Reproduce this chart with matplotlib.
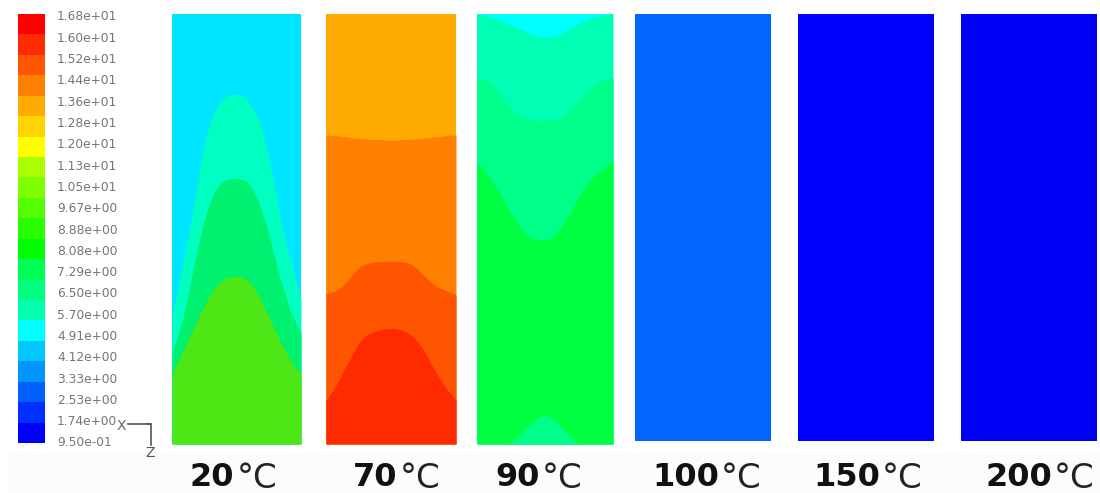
from matplotlib import pyplot as plt
import numpy as np

W, H = 1100, 493

# colour scale
scale_labels = ['1.68e+01', '1.60e+01', '1.52e+01', '1.44e+01', '1.36e+01', '1.28e+01', '1.20e+01', '1.13e+01',
                '1.05e+01', '9.67e+00', '8.88e+00', '8.08e+00', '7.29e+00', '6.50e+00', '5.70e+00', '4.91e+00',
                '4.12e+00', '3.33e+00', '2.53e+00', '1.74e+00', '9.50e-01']
scale_colors = ['#ff0000', '#ff2a00', '#ff5500', '#ff8000', '#ffaa00', '#ffd400', '#ffff00', '#aaff00', '#80ff00',
                '#55ff00', '#2aff00', '#00ff00', '#00ff55', '#00ff80', '#00ffb0', '#00ffff', '#00c8ff', '#0095ff',
                '#0060ff', '#0030ff', '#0000ff']

# boundary heights (percent of panel height) read across each panel, left to right
pos = [k / 24 for k in range(25)]

t20_a = [29.6, 35.5, 42, 48.5, 55.2, 62.5, 70, 74.5, 77.7, 79.6, 80.8, 81.2, 81.3, 81, 80, 78.2, 76, 71.8, 66.8,
         60.5, 53.6, 48, 42.8, 38, 33.5]
t20_b = [21, 25, 29, 35, 41, 46.8, 52, 56, 59, 60.6, 61.4, 61.7, 61.8, 61.5, 61, 59.2, 56.7, 53, 49, 44, 39, 35,
         31, 28.2, 25.7]
t20_c = [16.4, 19, 21.6, 24.2, 26.8, 29.6, 32.2, 34.6, 36.4, 37.8, 38.6, 38.9, 39, 38.8, 38.1, 36.8, 34.7, 32.2,
         29.6, 27, 24.2, 21.8, 19.6, 17.8, 16.4]

t70_a = [71.9, 71.8, 71.7, 71.5, 71.4, 71.2, 71.1, 71, 70.9, 70.8, 70.8, 70.7, 70.7, 70.7, 70.8, 70.8, 70.9, 71,
         71.1, 71.2, 71.4, 71.5, 71.7, 71.8, 71.9]
t70_b = [35, 35.2, 35.8, 36.7, 38, 39.5, 41, 41.7, 42.1, 42.3, 42.4, 42.5, 42.5, 42.5, 42.4, 42.2, 41.6, 40.6,
         39.3, 38.1, 37, 36.3, 35.8, 35.2, 34.7]
t70_c = [10.2, 12, 14, 16.4, 18.8, 21.2, 23.4, 24.8, 25.7, 26.2, 26.6, 26.8, 26.9, 26.8, 26.5, 25.9, 25, 23.6,
         21.9, 19.6, 17.2, 15.2, 13.3, 11.7, 10.2]

t90_a = [100, 99.8, 99.4, 99, 98.6, 98, 97.4, 96.9, 96.3, 95.6, 95, 94.8, 94.7, 94.8, 95, 95.6, 96.3, 97.1, 97.8,
         98.5, 99, 99.4, 99.7, 99.9, 100]
t90_b = [85, 85, 84.6, 83.3, 81.6, 79.7, 78, 76.9, 76, 75.6, 75.3, 75.2, 75.2, 75.3, 75.5, 76.2, 77.3, 78.6, 80,
         81.4, 82.7, 83.8, 84.6, 85, 85.3]
t90_c = [65.7, 64, 62.2, 60.3, 58.3, 56, 53.6, 51.6, 49.8, 48.6, 47.8, 47.4, 47.3, 47.9, 49, 50.8, 52.9, 55.2,
         57.5, 59.6, 61.4, 62.7, 63.7, 64.9, 66]
t90_d = [0, 0, 0, 0, 0, 0, 0.3, 1.3, 2.5, 4, 5.5, 6.3, 6.7, 6.2, 5.2, 3.9, 2.5, 1, 0, 0, 0, 0, 0, 0, 0]

labels = ['20', '70', '90', '100', '150', '200']

# pixel box of each panel: left, right, top, bottom
boxes = [(172, 301, 14, 444), (326, 456, 14, 444), (477, 613, 14, 444),
         (635, 771, 14, 441), (798, 934, 14, 441), (961, 1097, 14, 441)]
label_x = [190, 353, 495, 652, 813, 985]

# each panel: base colour, then (boundary, colour below it) from top to bottom
layers = [
    ('#00e5ff', [(t20_a, '#00ffc0'), (t20_b, '#00f070'), (t20_c, '#4fe616')]),
    ('#ffaa00', [(t70_a, '#ff8000'), (t70_b, '#ff5500'), (t70_c, '#ff2a00')]),
    ('#00ffff', [(t90_a, '#00ffb5'), (t90_b, '#00ff88'), (t90_c, '#00ff40'), (t90_d, '#00ff88')]),
    ('#0066ff', []),
    ('#0000ff', []),
    ('#0000f5', []),
]


def px_axes(fig, left, right, top, bottom):
    ax = fig.add_axes([left / W, 1 - bottom / H, (right - left) / W, (bottom - top) / H])
    ax.set_axis_off()
    return ax


fig = plt.figure(figsize=(W / 100, H / 100), dpi=100, facecolor='white')

# overlay in pixel units for the strip under the panels and the axis triad
bg = fig.add_axes([0, 0, 1, 1], zorder=0)
bg.set_xlim(0, W)
bg.set_ylim(H, 0)
bg.set_axis_off()
bg.axhspan(452, 493, xmin=8 / W, color='#fcfcfc', lw=0)
bg.plot([128, 151, 151], [424, 424, 445], color='#555555', lw=1.2)
bg.plot([151, 147], [424, 424], color='#555555', lw=1.2)
bg.text(121, 426, 'X', fontsize=10, color='#666666', ha='center', va='center')
bg.text(150, 453, 'Z', fontsize=10, color='#555555', ha='center', va='center')

# colour bar
cb = px_axes(fig, 18, 45, 14, 443)
n = len(scale_colors)
for i, c in enumerate(scale_colors):
    cb.bar(0, 1, bottom=n - 1 - i, width=1, color=c, lw=0)
cb.set_xlim(-0.5, 0.5)
cb.set_ylim(0, n)
for i, s in enumerate(scale_labels):
    bg.text(57, 17 + 21.3 * i, s, fontsize=8.8, color='#666666', ha='left', va='center', alpha=0.9)

# panels
xs = np.array(pos)
for box, (base, bands), name, lx in zip(boxes, layers, labels, label_x):
    ax = px_axes(fig, *box)
    ax.set_xlim(0, 1)
    ax.set_ylim(0, 100)
    ax.fill_between(xs, 0, 100, color=base, lw=0)
    for bound, col in bands:
        ax.fill_between(xs, 0, bound, color=col, lw=0)
    t = bg.text(lx, 478, name, fontsize=23, fontweight='bold', color='#111111', ha='left', va='center')
    fig.canvas.draw()
    end = t.get_window_extent().x1
    bg.text(end + 2, 478, '°C', fontsize=24.5, color='#222222', ha='left', va='center')

plt.savefig('out.png', dpi=100)
plt.close()
